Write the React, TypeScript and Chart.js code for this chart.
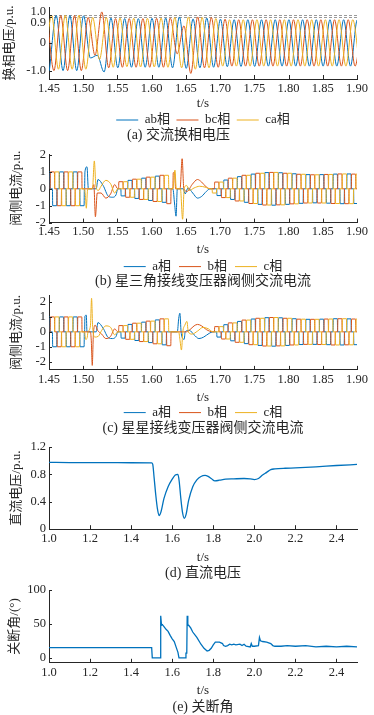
import React, { useEffect, useRef } from 'react';
import { Chart, registerables } from 'chart.js';
Chart.register(...registerables);

const BLUE = '#0072BD';
const RED = '#D95319';
const ORANGE = '#EDB120';
const INK = '#262626';
const FONT = '"Liberation Serif", "Times New Roman", "Noto Sans CJK SC", serif';

// ---------- shared x ticks ----------
const fastXTicks = [1.45, 1.5, 1.55, 1.6, 1.65, 1.7, 1.75, 1.8, 1.85, 1.9];
const fastXLabels = ['1.45', '1.50', '1.55', '1.60', '1.65', '1.70', '1.75', '1.80', '1.85', '1.90'];
const slowXTicks = [1.0, 1.2, 1.4, 1.6, 1.8, 2.0, 2.2, 2.4];
const slowXLabels = ['1.0', '1.2', '1.4', '1.6', '1.8', '2.0', '2.2', '2.4'];

// ---------- (a) commutation voltage: successive extremes, one every half cycle (10 ms) ----------
const HALF_CYCLE = 0.01;
const aYTickMarks = [-1, 0, 0.9, 1.0];
const aYLabelTicks = [-1, 0, 0.92];
const aYLabels: any[] = ['-1.0', '0', ['1.0', '0.9']];
const aRefLines = [0.9, 1.0];
const abT0 = 1.4505;
const bcT0 = 1.4472;
const caT0 = 1.4438;
const abExt = [-1.0, 0.97, -1.0, 0.97, -1.0, 0.96, -0.55, -0.45, -1.05, 0.88, -0.9, 0.86, -0.88, 0.86, -0.88, 0.87, -0.88, 0.88, -0.9, 0.92, -0.92, 0.85, -0.9, 0.88, -0.88, 0.84, -0.86, 0.82, -0.85, 0.82, -0.85, 0.82, -0.84, 0.82, -0.84, 0.82, -0.84, 0.82, -0.84, 0.82, -0.84, 0.82, -0.84, 0.82, -0.84, 0.82, -0.84];
const bcExt = [0.97, -1.0, 0.97, -1.0, 0.97, -1.0, 0.9, -0.45, 1.1, -0.9, 0.86, -0.88, 0.86, -0.88, 0.86, -0.88, 0.87, -0.88, 0.88, -0.4, 0.6, -1.1, 0.92, -0.9, 0.9, -0.88, 0.84, -0.84, 0.82, -0.84, 0.82, -0.84, 0.82, -0.84, 0.82, -0.84, 0.82, -0.84, 0.82, -0.84, 0.82, -0.84, 0.82, -0.84, 0.82, -0.84, 0.82];
const caExt = [-0.95, 0.98, -0.95, 0.98, -0.95, 0.98, -0.95, 0.9, -0.6, 0.9, -0.88, 0.88, -0.86, 0.87, -0.87, 0.87, -0.87, 0.88, -0.88, 0.9, -0.9, 0.92, -0.95, 0.9, -0.9, 0.86, -0.84, 0.82, -0.84, 0.82, -0.84, 0.82, -0.84, 0.82, -0.84, 0.82, -0.84, 0.82, -0.84, 0.82, -0.84, 0.82, -0.84, 0.82, -0.84, 0.82, -0.84];

// ---------- (b),(c) valve-side currents ----------
const currentYTicks = [-2, -1, 0, 1, 2];
const currentYLabels = ['-2', '-1', '0', '1', '2'];
const blockT0 = [1.445, 1.45167, 1.45833]; // first conduction block start, phases a, b, c
const BLOCK_LEN = 0.02 / 3;
const envT0 = 1.44; // envelope samples every 10 ms
const envB = [1.0, 1.0, 1.0, 1.0, 1.0, 1.0, 1.0, null, null, null, null, 0.33, 0.42, 0.5, 0.57, 0.63, 0.69, 0.75, 0.8, 0.88, null, null, null, null, 0.1, 0.25, 0.4, 0.52, 0.63, 0.72, 0.8, 0.87, 0.92, 0.96, 0.97, 0.95, 0.92, 0.89, 0.86, 0.84, 0.83, 0.84, 0.85, 0.87, 0.88, 0.88, 0.87, 0.86];
const envC = [1.0, 1.0, 1.0, 1.0, 1.0, 1.0, 1.0, null, null, null, null, 0.35, 0.42, 0.5, 0.58, 0.65, 0.72, 0.8, 0.87, 0.93, null, null, null, null, null, 0.2, 0.35, 0.48, 0.6, 0.7, 0.79, 0.86, 0.91, 0.95, 0.96, 0.94, 0.91, 0.88, 0.85, 0.84, 0.84, 0.85, 0.86, 0.88, 0.88, 0.87, 0.86, 0.86];
const winB = [[1.502, 1.551], [1.631, 1.686]];
const winC = [[1.502, 1.551], [1.631, 1.69]];

const bDistA = [[1.502, 0], [1.5025, 1.0], [1.5055, 1.3], [1.5075, 0], [1.519, 0], [1.5215, 0.55], [1.529, 0.2], [1.537, -0.45], [1.543, -0.5], [1.548, -0.35], [1.5505, 0],
  [1.631, 0], [1.6335, -0.9], [1.6356, -1.62], [1.6375, 0], [1.646, 0], [1.649, -0.3], [1.653, 0.05], [1.66, -0.25], [1.667, -0.55], [1.673, -0.45], [1.68, -0.15], [1.6855, 0]];
const bDistB = [[1.502, 0], [1.513, 0], [1.5155, 0.25], [1.5178, -1.65], [1.5205, -0.25], [1.526, -0.25], [1.533, -0.55], [1.54, -0.3], [1.546, 0.25], [1.5505, 0],
  [1.631, 0], [1.6315, 0.95], [1.6335, 0.95], [1.635, 0], [1.6415, 0], [1.6445, 1.78], [1.647, 0], [1.652, -0.15], [1.659, 0.25], [1.667, 0.55], [1.673, 0.4], [1.68, 0.1], [1.6855, 0]];
const bDistC = [[1.502, 0], [1.5035, -0.6], [1.5045, -1.15], [1.5065, 0], [1.5135, 0], [1.5162, 1.65], [1.5185, 0.2], [1.522, -0.1], [1.526, 0.15], [1.533, 0.5], [1.54, 0.3], [1.546, -0.25], [1.5505, 0],
  [1.631, 0], [1.634, 1.1], [1.636, 0], [1.642, 0], [1.6452, -1.8], [1.6475, 0], [1.651, 0.2], [1.655, -0.1], [1.662, 0.05], [1.67, 0.15], [1.678, 0.1], [1.6855, 0]];

const cDistA = [[1.502, 0], [1.5025, 1.05], [1.5045, 1.12], [1.5055, 0], [1.519, 0], [1.5215, 0.62], [1.529, 0.25], [1.537, -0.4], [1.543, -0.45], [1.548, -0.3], [1.5505, 0],
  [1.631, 0], [1.6375, 0], [1.6395, 0.9], [1.6412, 1.25], [1.643, 0], [1.6455, -0.45], [1.6475, -0.5], [1.649, 0], [1.655, 0.1], [1.662, -0.2], [1.669, -0.45], [1.676, -0.35], [1.684, -0.1], [1.6895, 0]];
const cDistB = [[1.502, 0], [1.5105, 0], [1.5118, -0.6], [1.5132, -2.25], [1.5148, -0.2], [1.5175, 0.45], [1.521, 0.1], [1.527, -0.15], [1.533, -0.45], [1.54, -0.3], [1.546, 0.2], [1.5505, 0],
  [1.631, 0], [1.651, 0], [1.656, 0.15], [1.662, 0.4], [1.667, 0.5], [1.673, 0.4], [1.68, 0.15], [1.6895, 0]];
const cDistC = [[1.502, 0], [1.5035, -0.5], [1.5055, -0.45], [1.507, 0], [1.5105, 0.4], [1.5122, 2.25], [1.5138, 0.3], [1.517, -0.35], [1.522, -0.3], [1.527, 0.1], [1.533, 0.4], [1.54, 0.3], [1.546, -0.2], [1.5505, 0],
  [1.631, 0], [1.6395, 0], [1.6415, -0.6], [1.6435, -1.22], [1.6455, 0], [1.6485, 0.45], [1.6515, 0.7], [1.6535, 0], [1.659, -0.15], [1.667, 0.05], [1.675, 0.3], [1.683, 0.2], [1.6895, 0]];

// ---------- (d) DC voltage ----------
const dT = [1.0, 1.1, 1.2, 1.3, 1.4, 1.5, 1.505, 1.512, 1.52, 1.528, 1.536, 1.545, 1.56, 1.58, 1.6, 1.615, 1.628, 1.634, 1.642, 1.65, 1.659, 1.668, 1.68, 1.7, 1.72, 1.74, 1.76, 1.775, 1.79, 1.808, 1.83, 1.86, 1.9, 1.95, 1.98, 2.0, 2.02, 2.04, 2.06, 2.08, 2.1, 2.15, 2.2, 2.3, 2.4, 2.5];
const dV = [0.975, 0.973, 0.972, 0.971, 0.97, 0.968, 0.95, 0.75, 0.5, 0.3, 0.2, 0.25, 0.45, 0.62, 0.73, 0.79, 0.8, 0.7, 0.45, 0.25, 0.16, 0.22, 0.42, 0.62, 0.72, 0.77, 0.785, 0.77, 0.74, 0.705, 0.715, 0.73, 0.735, 0.74, 0.735, 0.725, 0.74, 0.79, 0.83, 0.87, 0.88, 0.89, 0.895, 0.91, 0.93, 0.945];
const dYTicks = [0, 0.4, 0.8, 1.2];
const dYLabels = ['0', '0.4', '0.8', '1.2'];

// ---------- (e) extinction angle ----------
const eT = [1.0, 1.5, 1.503, 1.541, 1.543, 1.545, 1.548, 1.552, 1.56, 1.57, 1.58, 1.59, 1.6, 1.61, 1.62, 1.628, 1.633, 1.664, 1.667, 1.671, 1.673, 1.676, 1.68, 1.69, 1.7, 1.72, 1.74, 1.755, 1.77, 1.78, 1.79, 1.8, 1.81, 1.83, 1.845, 1.85, 1.86, 1.87, 1.88, 1.89, 1.9, 1.91, 1.93, 1.94, 1.95, 1.96, 1.98, 1.985, 1.99, 2.0, 2.02, 2.025, 2.03, 2.04, 2.06, 2.08, 2.09, 2.1, 2.13, 2.16, 2.2, 2.25, 2.3, 2.35, 2.4, 2.45, 2.5];
const eV = [15, 15, 0, 0, 62, 62, 48, 49, 46, 42, 39, 33, 28, 24, 15, 8, 0, 0, 7, 7, 62, 48, 48, 44, 38, 30, 20, 14, 10, 11, 14, 19, 23, 23, 21, 18, 17, 18, 20, 19, 20, 19, 20, 18, 20, 17, 16, 21, 17, 17, 18, 30, 25, 24, 23, 21, 18, 17, 17, 18, 17, 18, 16, 17, 16, 17, 16];
const eYTicks = [0, 50, 100];
const eYLabels = ['0', '50', '100'];

// ---------- helpers ----------
const extremesToPoints = (t0: number, vals: number[]) => vals.map((y, i) => ({ x: t0 + i * HALF_CYCLE, y }));

function currentPoints(t0: number, env: any[], wins: number[][], dist: number[][]) {
  const pts: any[] = [];
  for (let k = 0; k < 47; k++) {
    const ts = t0 + k * HALF_CYCLE;
    const te = ts + BLOCK_LEN;
    if (wins.some(([a, b]) => te > a && ts < b)) continue;
    const idx = Math.round((ts + BLOCK_LEN / 2 - envT0) / HALF_CYCLE);
    const A = env[idx];
    if (A == null) continue;
    const s = k % 2 === 0 ? 1 : -1;
    pts.push({ x: ts, y: 0 }, { x: ts + 0.0004, y: s * A }, { x: te - 0.0004, y: s * A }, { x: te, y: 0 });
  }
  dist.forEach(([x, y]) => pts.push({ x, y }));
  pts.sort((p, q) => p.x - q.x);
  return pts;
}

const deco = {
  id: 'deco',
  beforeDatasetsDraw(chart: any, _a: any, opts: any) {
    const { ctx, chartArea: a, scales } = chart;
    if (opts.refLines) {
      ctx.save();
      ctx.setLineDash([3, 2]);
      ctx.strokeStyle = '#9a9a9a';
      ctx.lineWidth = 1;
      ctx.beginPath();
      opts.refLines.forEach((v: number) => {
        const py = Math.round(scales.y.getPixelForValue(v)) + 0.5;
        ctx.moveTo(a.left, py);
        ctx.lineTo(a.right, py);
      });
      ctx.stroke();
      ctx.restore();
    }
  },
  afterDatasetsDraw(chart: any, _a: any, opts: any) {
    const { ctx, chartArea: a, scales } = chart;
    ctx.save();
    ctx.strokeStyle = INK;
    ctx.lineWidth = 1;
    ctx.beginPath();
    (opts.xTicks || []).forEach((v: number) => {
      const px = Math.round(scales.x.getPixelForValue(v)) + 0.5;
      ctx.moveTo(px, a.bottom);
      ctx.lineTo(px, a.bottom - 4);
    });
    (opts.yTicks || []).forEach((v: number) => {
      const py = Math.round(scales.y.getPixelForValue(v)) + 0.5;
      ctx.moveTo(a.left, py);
      ctx.lineTo(a.left + 3, py);
    });
    ctx.stroke();
    ctx.restore();
  },
};

function xScale(min: number, max: number, ticks: number[], labels: string[], hx: number, titlePb: number) {
  return {
    type: 'linear', min, max,
    afterBuildTicks: (s: any) => { s.ticks = ticks.map((v) => ({ value: v })); },
    afterFit: (s: any) => { s.height = hx; s.paddingLeft = 0; s.paddingRight = 0; },
    grid: { display: false, drawTicks: false },
    border: { display: true, color: INK, width: 1 },
    ticks: { autoSkip: false, maxRotation: 0, padding: 2, color: INK, font: { family: FONT, size: 12.5 }, callback: (_v: any, i: number) => labels[i] },
    title: { display: true, text: 't/s', color: INK, font: { family: FONT, size: 13 }, padding: { top: 0, bottom: titlePb } },
  };
}

function yScale(min: number, max: number, ticks: number[], labels: any[], text: string, titlePt: number) {
  return {
    type: 'linear', min, max,
    afterBuildTicks: (s: any) => { s.ticks = ticks.map((v) => ({ value: v })); },
    afterFit: (s: any) => { s.width = 49; s.paddingTop = 0; s.paddingBottom = 0; },
    grid: { display: false, drawTicks: false },
    border: { display: true, color: INK, width: 1 },
    ticks: { autoSkip: false, padding: 3, color: INK, font: { family: FONT, size: 12.5, lineHeight: 0.9 }, callback: (_v: any, i: number) => labels[i] },
    title: { display: true, text, color: INK, font: { family: FONT, size: 13 }, padding: { top: titlePt, bottom: 0 } },
  };
}

function legendOpts(pad: number, maxH: number) {
  return {
    display: true, position: 'bottom', fullSize: false, maxHeight: maxH,
    labels: {
      usePointStyle: true, pointStyle: 'line', pointStyleWidth: 22, padding: pad, color: INK,
      font: { family: FONT, size: 13 },
      sort: (a: any, b: any) => a.datasetIndex - b.datasetIndex,
    },
  };
}

function titleOpts(text: string, fullSize: boolean) {
  return { display: true, position: 'bottom', fullSize, text, color: INK, font: { family: FONT, size: 14, weight: 'normal' }, padding: { top: 0, bottom: 0 } };
}

const line = (label: string, data: any[], color: string, order: number, width = 1, mono = true) => ({
  label, data, borderColor: color, backgroundColor: color, borderWidth: width, pointRadius: 0,
  cubicInterpolationMode: mono ? 'monotone' : 'default', tension: 0, order,
});

const base = (padTop: number) => ({
  responsive: false, animation: false, devicePixelRatio: 1,
  layout: { padding: { top: padTop, left: 0, right: 17, bottom: 0 } },
  events: [],
});

function makeA() {
  return {
    type: 'line', plugins: [deco],
    data: { datasets: [
      line('ab相', extremesToPoints(abT0, abExt), BLUE, 3),
      line('bc相', extremesToPoints(bcT0, bcExt), RED, 2),
      line('ca相', extremesToPoints(caT0, caExt), ORANGE, 1),
    ] },
    options: {
      ...base(7),
      scales: {
        x: xScale(1.45, 1.9, fastXTicks, fastXLabels, 28, -4.8),
        y: yScale(-1.3, 1.275, aYLabelTicks, aYLabels, '换相电压/p.u.', 1.7),
      },
      plugins: {
        legend: legendOpts(6.5, 20.2),
        title: titleOpts('(a) 交流换相电压', true),
        tooltip: { enabled: false },
        deco: { xTicks: fastXTicks, yTicks: aYTickMarks, refLines: aRefLines },
      },
    },
  };
}

function makeCurrent(env: any[], wins: number[][], dA: number[][], dB: number[][], dC: number[][], opt: any) {
  return {
    type: 'line', plugins: [deco],
    data: { datasets: [
      line('a相', currentPoints(blockT0[0], env, wins, dA), BLUE, 3),
      line('b相', currentPoints(blockT0[1], env, wins, dB), RED, 2),
      line('c相', currentPoints(blockT0[2], env, wins, dC), ORANGE, 1),
    ] },
    options: {
      ...base(opt.padTop),
      scales: {
        x: xScale(1.45, 1.9, fastXTicks, fastXLabels, opt.hx, opt.xpb),
        y: yScale(opt.ymin, opt.ymax, currentYTicks, currentYLabels, '阀侧电流/p.u.', 9.2),
      },
      plugins: {
        legend: legendOpts(8, opt.legH),
        title: titleOpts(opt.caption, false),
        tooltip: { enabled: false },
        deco: { xTicks: fastXTicks, yTicks: currentYTicks },
      },
    },
  };
}

const makeB = () => makeCurrent(envB, winB, bDistA, bDistB, bDistC,
  { padTop: 12, hx: 29.5, xpb: -5.6, legH: 21.1, ymin: -2, ymax: 2.06, caption: '(b) 星三角接线变压器阀侧交流电流' });
const makeC = () => makeCurrent(envC, winC, cDistA, cDistB, cDistC,
  { padTop: 7, hx: 28.2, xpb: -7.6, legH: 22.1, ymin: -2.55, ymax: 2.47, caption: '(c) 星星接线变压器阀侧交流电流' });

function makeD() {
  return {
    type: 'line', plugins: [deco],
    data: { datasets: [line('直流电压', dT.map((x, i) => ({ x, y: dV[i] })), BLUE, 1, 1.3, true)] },
    options: {
      ...base(12),
      scales: {
        x: xScale(1.0, 2.5, slowXTicks, slowXLabels, 36, -0.5),
        y: yScale(0, 1.2, dYTicks, dYLabels, '直流电压/p.u.', 9.2),
      },
      plugins: {
        legend: { display: false },
        title: titleOpts('(d) 直流电压', false),
        tooltip: { enabled: false },
        deco: { xTicks: slowXTicks, yTicks: dYTicks },
      },
    },
  };
}

function makeE() {
  return {
    type: 'line', plugins: [deco],
    data: { datasets: [line('关断角', eT.map((x, i) => ({ x, y: eV[i] })), BLUE, 1, 1.3, false)] },
    options: {
      ...base(10),
      scales: {
        x: xScale(1.0, 2.5, slowXTicks, slowXLabels, 36.4, 0.5),
        y: yScale(-7.4, 100, eYTicks, eYLabels, '关断角/(°)', 7.2),
      },
      plugins: {
        legend: { display: false },
        title: titleOpts('(e) 关断角', false),
        tooltip: { enabled: false },
        deco: { xTicks: slowXTicks, yTicks: eYTicks },
      },
    },
  };
}

function Panel({ top, height, make }: { top: number; height: number; make: () => any }) {
  const ref = useRef<HTMLCanvasElement | null>(null);
  useEffect(() => {
    const chart = new Chart(ref.current as any, make() as any);
    return () => chart.destroy();
  }, []);
  return (
    <canvas ref={ref} width={374} height={height}
      style={{ position: 'absolute', left: 0, top, width: 374, height, display: 'block' }} />
  );
}

export default function App() {
  return (
    <div style={{ position: 'absolute', left: 0, top: 0, width: 374, height: 715, background: '#fff', overflow: 'hidden' }}>
      <Panel top={0} height={144} make={makeA} />
      <Panel top={142} height={148} make={makeB} />
      <Panel top={288} height={149} make={makeC} />
      <Panel top={435} height={147} make={makeD} />
      <Panel top={580} height={136} make={makeE} />
    </div>
  );
}
